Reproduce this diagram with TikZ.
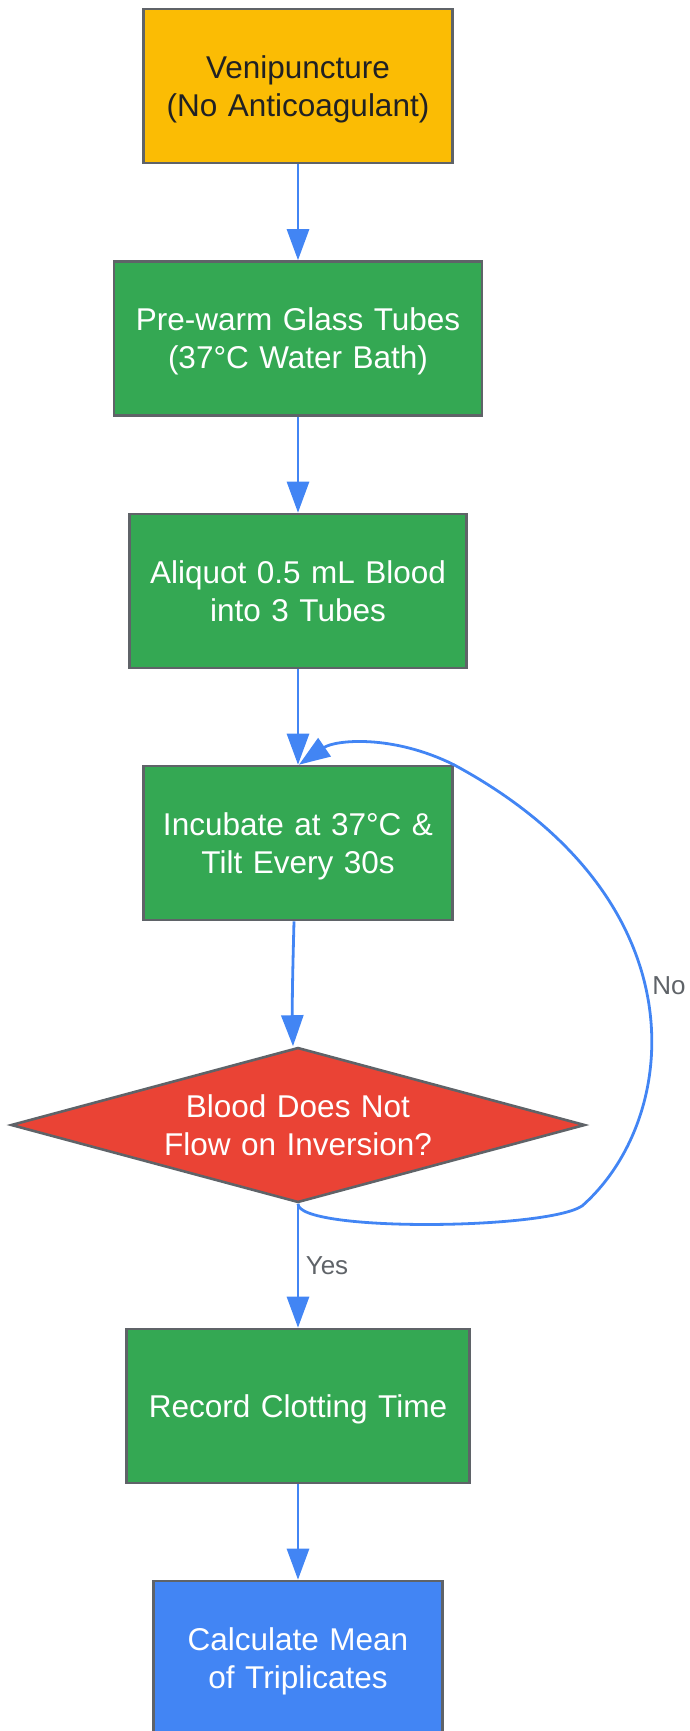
\documentclass[tikz,border=0pt]{standalone}
\usepackage{fontspec}
\setmainfont{Liberation Sans}
\usetikzlibrary{arrows.meta, shapes.geometric, positioning}

\definecolor{gyellow}{HTML}{FBBC04}
\definecolor{ggreen}{HTML}{34A853}
\definecolor{gred}{HTML}{EA4335}
\definecolor{gblue}{HTML}{4285F4}
\definecolor{gborder}{HTML}{5F6368}
\definecolor{gdark}{HTML}{202124}

\begin{document}
\begin{tikzpicture}[x=1pt, y=-1pt,
	boxtext/.style={align=center, font=\fontsize{31.5}{38}\selectfont, execute at begin node={\parindent=0pt\rule{0pt}{30.6pt}}, execute at end node={\rule[-8pt]{0pt}{8pt}}},
	stepbox/.style={rectangle, draw=gborder, line width=2.6pt, inner sep=0pt, text=white, minimum height=154pt, boxtext},
	check/.style={diamond, aspect=3.7, draw=gborder, line width=2.6pt, fill=gred, inner sep=0pt, text=white, text width=270pt, minimum width=574pt, minimum height=155pt, boxtext},
	flow/.style={draw=gblue, line width=2.8pt},
	lbl/.style={text=gborder, font=\fontsize{26}{30}\selectfont}]
		\useasboundingbox (0, 0) rectangle (689, 1731);
		\node[stepbox, fill=gyellow, text=gdark, text width=309pt] (vp) at (298, 86) {Venipuncture\\(No Anticoagulant)};
		\node[stepbox, fill=ggreen, text width=368pt] (warm) at (298, 338.5) {Pre-warm Glass Tubes\\(37°C Water Bath)};
		\node[stepbox, fill=ggreen, text width=337pt] (aliq) at (298, 591) {Aliquot 0.5 mL Blood\\into 3 Tubes};
		\node[stepbox, fill=ggreen, text width=309pt] (inc) at (298, 843) {Incubate at 37°C \&\\Tilt Every 30s};
		\node[check] (dec) at (298, 1125) {Blood Does Not\\Flow on Inversion?};
		\node[stepbox, fill=ggreen, text width=343pt] (rec) at (298, 1406) {Record Clotting Time};
		\node[stepbox, fill=gblue, text width=289pt] (mean) at (298, 1658) {Calculate Mean\\of Triplicates};
		\coordinate (bend) at (582, 1206);
		\draw[flow, -{Triangle[length=31pt, width=22pt]}] (vp) -- (warm);
		\draw[flow, -{Triangle[length=31pt, width=22pt]}] (warm) -- (aliq);
		\draw[flow, -{Triangle[length=31pt, width=22pt]}] (aliq) -- (inc);
		\draw[flow, -{Triangle[length=31pt, width=22pt]}] ([xshift=-4pt]inc.south) .. controls (293, 960) and (292, 1000) .. ([xshift=-5pt]dec.north);
		\draw[flow, -{Triangle[length=31pt, width=22pt]}] (dec) -- (rec);
		\draw[flow, -{Triangle[length=31pt, width=22pt]}] (rec) -- (mean);
		\draw[flow, -{Triangle[length=31pt, width=22pt]}] (dec.south) .. controls (298, 1232) and (545, 1230) .. (bend)
			.. controls (680, 1120) and (705, 900) .. (inc.north east)
			.. controls (392, 734) and (335, 740) .. ([xshift=1pt]inc.north);
		\node[lbl] (yes) at (327, 1266) {Yes};
		\node[lbl] (no) at (669, 986) {No};
	\end{tikzpicture}
\end{document}
